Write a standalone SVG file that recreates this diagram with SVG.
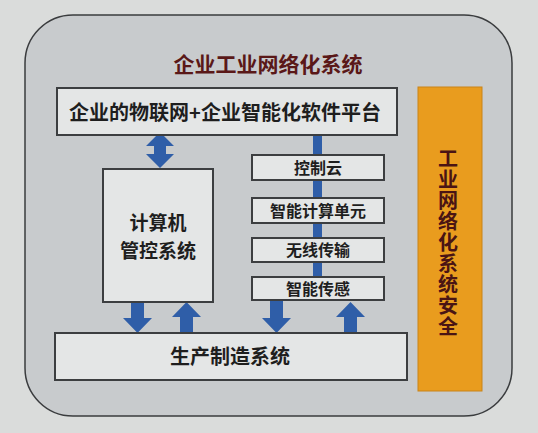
<svg xmlns="http://www.w3.org/2000/svg" width="538" height="433" viewBox="0 0 538 433">
<defs>
<style>
.box{fill:#e4e6e6;stroke:#3c3e40;stroke-width:2}
.t{font-family:"Noto Sans CJK SC","Noto Sans",sans-serif;font-weight:bold;fill:#1e1e1e;text-anchor:middle}
.s{font-size:16px}
.arr{fill:#2f5ea8}
</style>
</defs>
<rect x="0" y="0" width="538" height="433" fill="#dadcdb"/>
<rect x="25" y="15" width="487" height="401" rx="48" ry="48" fill="#c8cbcd" stroke="#3a3c3e" stroke-width="1.5"/>
<text x="268" y="72" class="t" font-size="21" style="fill:#5a1818">企业工业网络化系统</text>
<g id="connectors">
<rect x="313" y="135" width="9" height="145" class="arr"/>
<path class="arr" d="M160,132 L174,146 L166,146 L166,154 L174,154 L160,168 L146,154 L154,154 L154,146 L146,146 Z"/>
<path class="arr" d="M131,302 L144,302 L144,318 L152,318 L137.5,333 L123,318 L131,318 Z"/>
<path class="arr" d="M180,333 L193,333 L193,317 L201,317 L186.5,302 L172,317 L180,317 Z"/>
<path class="arr" d="M270,300 L283,300 L283,318 L291,318 L276.5,333 L262,318 L270,318 Z"/>
<path class="arr" d="M344,333 L357,333 L357,317 L365,317 L350.5,302 L336,317 L344,317 Z"/>
</g>
<g id="platform">
<rect x="57" y="88" width="340" height="47" class="box"/>
<text x="225" y="120" class="t" font-size="20">企业的物联网+企业智能化软件平台</text>
</g>
<g id="computer">
<rect x="103" y="169" width="110" height="133" class="box"/>
<text x="158" y="230" class="t" font-size="19">计算机</text>
<text x="158" y="258" class="t" font-size="19">管控系统</text>
</g>
<g id="cloud">
<rect x="252" y="155" width="132" height="25" class="box"/>
<text x="318" y="174" class="t s">控制云</text>
</g>
<g id="compute">
<rect x="252" y="198" width="132" height="25" class="box"/>
<text x="318" y="217" class="t s">智能计算单元</text>
</g>
<g id="wireless">
<rect x="252" y="238" width="132" height="24" class="box"/>
<text x="318" y="256" class="t s">无线传输</text>
</g>
<g id="sensing">
<rect x="252" y="277" width="132" height="23" class="box"/>
<text x="318" y="295" class="t s">智能传感</text>
</g>
<g id="production">
<rect x="55" y="333" width="352" height="47" class="box"/>
<text x="230" y="364" class="t" font-size="20">生产制造系统</text>
</g>
<g id="security">
<rect x="418" y="87" width="64" height="304" fill="#e99c1e" stroke="#c98418" stroke-width="1"/>
<text class="t" font-size="20" style="fill:#4a1414" x="448" y="243" writing-mode="vertical-rl" letter-spacing="1">工业网络化系统安全</text>
</g>
</svg>
